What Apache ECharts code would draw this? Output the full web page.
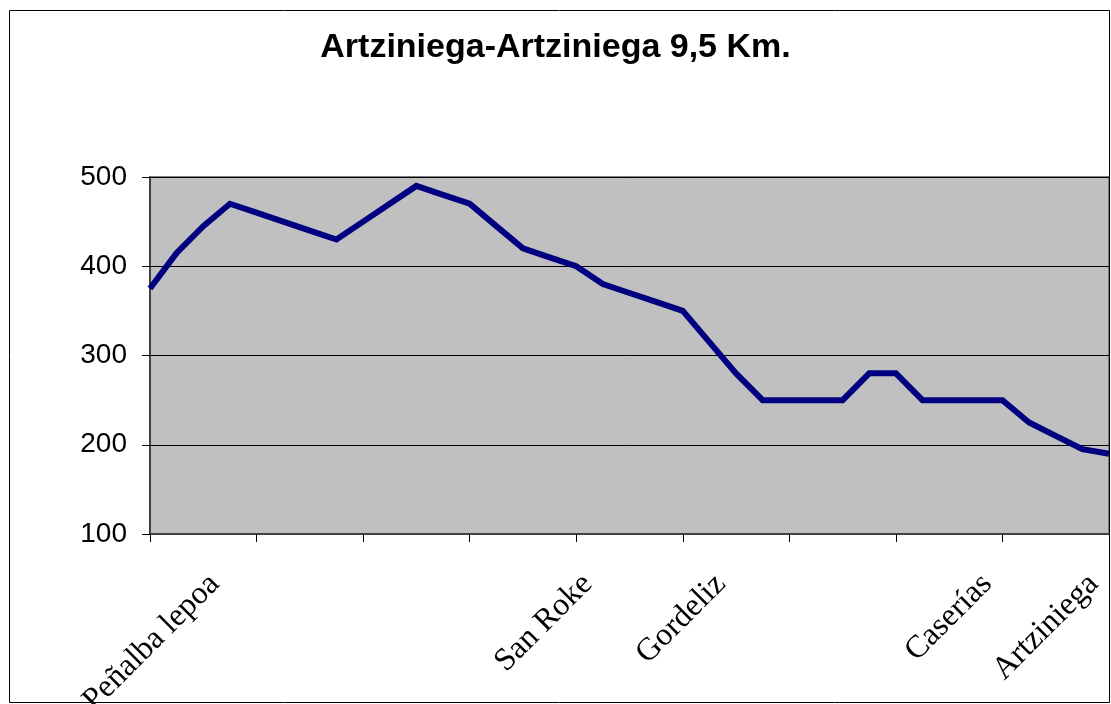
<!DOCTYPE html>
<html>
<head>
<meta charset="utf-8">
<script src="https://cdn.jsdelivr.net/npm/echarts@6/dist/echarts.min.js"></script>
<style>
  html, body { margin: 0; padding: 0; background: #fff; }
  #perfil { width: 1111px; height: 704px; }
</style>
</head>
<body>
<div id="perfil"></div>
<script>
// altitude (m) at each point of the route, left to right
var altitudes = [
    375, 415, 445, 470, 460, 450, 440, 430, 450, 470,
    490, 480, 470, 445, 420, 410, 400, 380, 370, 360,
    350, 315, 280, 250, 250, 250, 250, 280, 280, 250,
    250, 250, 250, 225, 210, 195, 190
];

// place names, only some points are named
var places = [
    '', '', 'Peñalba lepoa', '', '', '', '', '', '', '',
    '', '', '', '', '', '', 'San Roke', '', '', '',
    '', 'Gordeliz', '', '', '', '', '', '', '', '',
    '', 'Caserías', '', '', '', 'Artziniega', ''
];

var yTicks = [100, 200, 300, 400, 500];

var chartDom = document.getElementById('perfil');
var myChart = echarts.init(chartDom);
var option;

option = {
    animation: false,
    backgroundColor: '#ffffff',
    title: {
        text: 'Artziniega-Artziniega 9,5 Km.',
        left: 'center',
        top: 26,
        textStyle: {
            fontFamily: 'Liberation Sans, Arial',
            fontSize: 34,
            fontWeight: 'bold',
            color: '#000'
        }
    },
    graphic: [{
        type: 'rect',
        shape: { x: 9.5, y: 10.5, width: 1100, height: 692 },
        style: { fill: 'none', stroke: '#000', lineWidth: 1 },
        silent: true
    }],
    grid: {
        left: 150,
        right: 2,
        top: 177,
        bottom: 170,
        outerBoundsMode: 'none',
        containLabel: false,
        show: true,
        backgroundColor: '#c0c0c0',
        borderColor: '#808080',
        borderWidth: 2
    },
    xAxis: {
        type: 'category',
        data: places,
        boundaryGap: false,
        axisLine: { lineStyle: { color: '#404040', width: 2 } },
        axisTick: {
            length: 8,
            interval: function (i) { return i % 4 === 0; },
            lineStyle: { color: '#000', width: 1 }
        },
        axisLabel: {
            interval: 0,
            rotate: 45,
            margin: 34,
            verticalAlign: 'top',
            fontFamily: 'Liberation Serif, Times New Roman',
            fontSize: 32,
            color: '#000'
        }
    },
    yAxis: {
        type: 'value',
        min: yTicks[0],
        max: yTicks[yTicks.length - 1],
        interval: 100,
        axisLine: { show: true, lineStyle: { color: '#404040', width: 2 } },
        axisTick: { show: true, length: 8, lineStyle: { color: '#000' } },
        axisLabel: {
            margin: 23,
            fontFamily: 'Liberation Sans, Arial',
            fontSize: 28,
            color: '#000'
        },
        splitLine: { show: true, lineStyle: { color: '#000', width: 1 } }
    },
    series: [{
        type: 'line',
        data: altitudes,
        showSymbol: false,
        lineStyle: { color: '#000080', width: 6, join: 'miter' },
        itemStyle: { color: '#000080' }
    }]
};

option && myChart.setOption(option);
</script>
</body>
</html>
